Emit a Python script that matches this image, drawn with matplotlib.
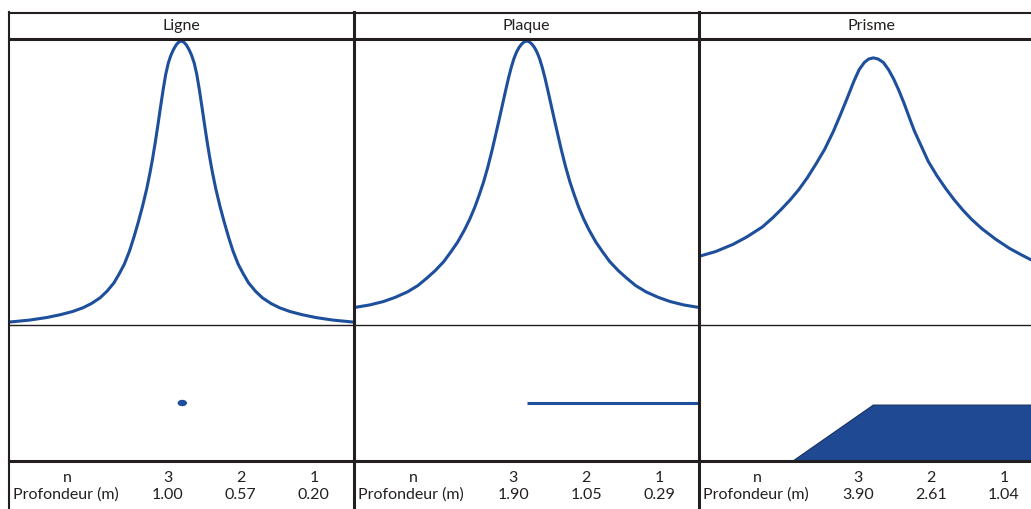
import matplotlib.pyplot as plt
from matplotlib.lines import Line2D
from matplotlib.patches import Ellipse, Polygon

plt.rcParams['font.family'] = ['Lato', 'DejaVu Sans']

# --- data (x: horizontal distance, amplitude normalised) ---
titles = ["Ligne", "Plaque", "Prisme"]

# Ligne: one half (distance from the peak, amplitude), mirrored
ligne_dist = [0, 0.15, 0.3, 0.45, 0.6, 0.75, 0.9, 1.05, 1.2, 1.35, 1.5, 1.65, 1.8,
              2.0, 2.25, 2.5, 2.75, 3.0, 3.3, 3.6, 3.9, 4.3, 4.7, 5.2, 5.7, 6.3,
              7.0, 7.8, 8.8, 10.0]
ligne_amp = [0.993, 0.989, 0.979, 0.963, 0.943, 0.916, 0.876, 0.822, 0.762, 0.700,
             0.640, 0.585, 0.535, 0.476, 0.413, 0.357, 0.305, 0.258, 0.212, 0.178,
             0.147, 0.118, 0.095, 0.075, 0.060, 0.047, 0.036, 0.026, 0.017, 0.010]

plaque_dist = [0, 0.15, 0.3, 0.45, 0.6, 0.75, 0.9, 1.05, 1.2, 1.4, 1.6, 1.8, 2.0,
               2.25, 2.5, 2.75, 3.0, 3.3, 3.6, 4.0, 4.4, 4.8, 5.3, 5.8, 6.3, 6.9,
               7.6, 8.3, 9.1, 10.0]
plaque_amp = [0.993, 0.990, 0.982, 0.970, 0.953, 0.930, 0.900, 0.865, 0.826, 0.772,
              0.718, 0.665, 0.613, 0.553, 0.500, 0.455, 0.413, 0.370, 0.333, 0.290,
              0.255, 0.222, 0.190, 0.163, 0.138, 0.116, 0.097, 0.082, 0.070, 0.061]

prisme_x = [-9.91, -9.0, -8.0, -7.2, -6.3, -5.7, -5.2, -4.7, -4.2, -3.7, -3.2, -2.7,
            -2.2, -1.8, -1.4, -1.0, -0.7, -0.4, -0.15, 0.12, 0.4, 0.7, 1.0, 1.3,
            1.6, 1.9, 2.2, 2.5, 2.9, 3.3, 3.8, 4.3, 4.8, 5.3, 5.8, 6.4, 7.2, 8.0,
            8.7, 9.28]
prisme_y = [0.241, 0.257, 0.282, 0.308, 0.343, 0.375, 0.405, 0.437, 0.473, 0.515,
            0.563, 0.614, 0.676, 0.733, 0.792, 0.853, 0.893, 0.918, 0.930, 0.934,
            0.930, 0.918, 0.893, 0.860, 0.820, 0.775, 0.726, 0.678, 0.625, 0.572,
            0.522, 0.478, 0.438, 0.402, 0.370, 0.337, 0.300, 0.268, 0.245, 0.227]

# source bodies (x, depth)
ligne_body = (0.06, 4.52)
plaque_body_x = [0.03, 10.0]
plaque_body_z = [4.52, 4.52]
prisme_body_x = [-4.70, 0.12, 10.5, 10.5]
prisme_body_z = [8.0, 4.64, 4.64, 8.0]

n_labels = ["3", "2", "1"]
ligne_depth = ["1.00", "0.57", "0.20"]
plaque_depth = ["1.90", "1.05", "0.29"]
prisme_depth = ["3.90", "2.61", "1.04"]


def mirror(dist, amp):
    xs = [-d for d in dist[::-1]] + list(dist[1:])
    ys = list(amp[::-1]) + list(amp[1:])
    return xs, ys


curves = [mirror(ligne_dist, ligne_amp), mirror(plaque_dist, plaque_amp),
          (prisme_x, prisme_y)]
depths = [ligne_depth, plaque_depth, prisme_depth]

blue = '#1d4f9c'
ink = '#231f20'

W, H = 1031, 509
fig = plt.figure(figsize=(W / 100, H / 100), dpi=100)


def fx(px):
    return px / W


def fy(py):
    return 1 - py / H


col_left = [8.5, 354, 698.5]
col_w = 345.5


def add_ax(left, top, bottom):
    ax = fig.add_axes([fx(left), fy(bottom), col_w / W, (bottom - top) / H])
    ax.set_axis_off()
    return ax


for i, left in enumerate(col_left):
    # header
    hx = add_ax(left, 13, 39)
    hx.text(0.5, 0.5, titles[i], ha='center', va='center', fontsize=11.5,
            color=ink, transform=hx.transAxes)

    # anomaly curve
    cx = add_ax(left, 39, 325)
    cx.plot(curves[i][0], curves[i][1], color=blue, lw=2.2,
            solid_joinstyle='round', solid_capstyle='butt')
    cx.set_xlim(-10, 10)
    cx.set_ylim(0, 1)

    # model
    mx = add_ax(left, 325, 461)
    mx.set_xlim(-10, 10)
    mx.set_ylim(7.88, 0)
    if i == 0:
        mx.add_patch(Ellipse(ligne_body, 0.46, 0.29, color=blue))
    elif i == 1:
        mx.plot(plaque_body_x, plaque_body_z, color=blue, lw=2.2,
                solid_capstyle='butt')
    else:
        mx.add_patch(Polygon(list(zip(prisme_body_x, prisme_body_z)),
                             closed=True, facecolor='#1f4a93',
                             edgecolor='#16305e', lw=0.8))

    # table
    tx = add_ax(left, 461, 509)
    row1, row2 = 0.646, 0.292
    tx.text(0.171, row1, "n", ha='center', va='center', fontsize=11.5,
            color=ink, transform=tx.transAxes)
    tx.text(0.012, row2, "Profondeur (m)", ha='left', va='center',
            fontsize=11.5, color=ink, transform=tx.transAxes)
    for xpos, nl, dv in zip([0.461, 0.672, 0.884], n_labels, depths[i]):
        tx.text(xpos, row1, nl, ha='center', va='center', fontsize=11.5,
                color=ink, transform=tx.transAxes)
        tx.text(xpos, row2, dv, ha='center', va='center', fontsize=11.5,
                color=ink, transform=tx.transAxes)

# grid lines of the figure
for py, lw in [(13, 1.5), (39, 2.2), (325, 1.0), (461, 2.2)]:
    fig.add_artist(Line2D([fx(8.5), 1.0], [fy(py), fy(py)], lw=lw, color=ink,
                          transform=fig.transFigure))
for px, lw in [(8.5, 1.5), (354, 2.2), (698.5, 2.2)]:
    fig.add_artist(Line2D([fx(px), fx(px)], [fy(12), 0.0], lw=lw, color=ink,
                          transform=fig.transFigure))

fig.savefig('out.png', dpi=100, facecolor='white')
